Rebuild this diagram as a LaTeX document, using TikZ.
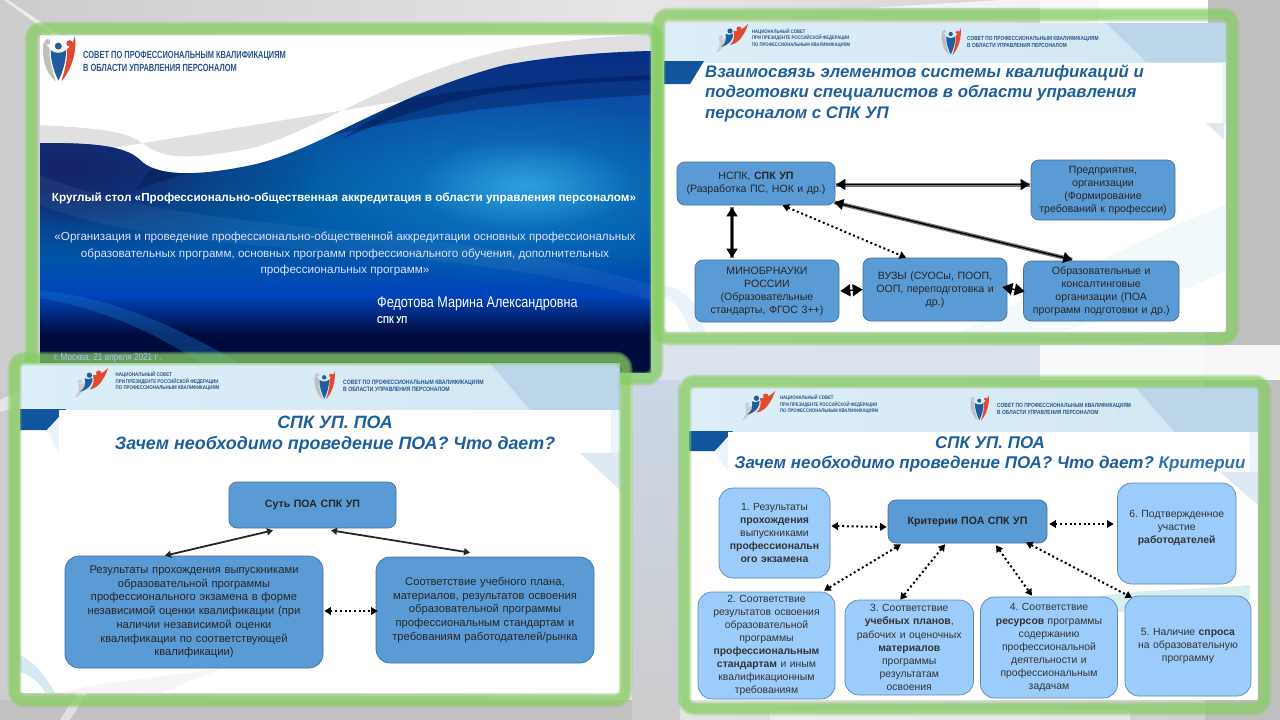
\documentclass[tikz,border=0pt]{standalone}
\usepackage{fontspec}
\setmainfont{Liberation Sans}
\newfontfamily\narrowf[FakeStretch=0.82]{Liberation Sans}
\newfontfamily\narrowerf[FakeStretch=0.72]{Liberation Sans}
\usetikzlibrary{arrows.meta,fadings}
\definecolor{titleblue}{HTML}{1D5F9C}
\definecolor{critblue}{HTML}{2F74AE}
\definecolor{midblue}{HTML}{5B9BD5}
\definecolor{midedge}{HTML}{41719C}
\definecolor{paleblue}{HTML}{9CCCFB}
\definecolor{paleedge}{HTML}{5E88AD}
\definecolor{glowgreen}{RGB}{135,205,100}
\definecolor{logoblue}{HTML}{1F5E9E}
\definecolor{flagblue}{HTML}{12559F}
\definecolor{logored}{HTML}{E2492F}
\definecolor{logotext}{HTML}{27558C}
\definecolor{navy}{HTML}{000B3E}
\definecolor{leftnavy}{HTML}{14246A}
\definecolor{hdrL}{HTML}{DCEEF8}
\definecolor{hdrR}{HTML}{D2E6F3}
\definecolor{hdrC}{HTML}{BCD6E9}
\definecolor{hdrP}{HTML}{EAF4FA}
\definecolor{triC}{HTML}{DCE9F2}
\definecolor{waveC}{HTML}{D5E8F4}
\definecolor{waveT}{HTML}{D6EEF0}
\definecolor{bgblue}{HTML}{CAD6E6}
\pgfdeclareverticalshading{slideone}{100bp}{
  color(0bp)=(navy); color(25bp)=(navy); color(31bp)=(navy);
  color(37bp)=(rgb:red,0;green,42;blue,115);
  color(43bp)=(rgb:red,0;green,85;blue,168);
  color(53bp)=(rgb:red,0;green,115;blue,200);
  color(64bp)=(rgb:red,10;green,85;blue,170);
  color(75bp)=(rgb:red,10;green,42;blue,112);
  color(100bp)=(rgb:red,10;green,42;blue,112)}
\tikzfading[name=softglow,inner color=transparent!0,outer color=transparent!100]
\AtBeginDocument{\frenchspacing}
\tikzset{
  bluebox/.style={draw=midedge,line width=.7pt,fill=midblue,rounded corners=8pt,align=center,inner sep=0pt,text=black!85,font=\fontsize{10.6}{13}\selectfont},
  bigbox/.style={bluebox,rounded corners=14pt,font=\fontsize{11.2}{13.7}\selectfont},
  palebox/.style={draw=paleedge,line width=.7pt,fill=paleblue,rounded corners=14pt,align=center,inner sep=0pt,text=black!80,font=\fontsize{10.4}{13.05}\selectfont},
  heavy/.style={{Triangle[length=9pt,width=11pt]}-{Triangle[length=9pt,width=11pt]},line width=1.4pt,black,preaction={draw=black!55,line width=4pt,arrows=-}},
  stubby/.style={{Triangle[length=10pt,width=12pt]}-{Triangle[length=10pt,width=12pt]},line width=1.4pt,black},
  medium/.style={{Triangle[length=6pt,width=7pt]}-{Triangle[length=6pt,width=7pt]},line width=1.8pt,black!85},
  dots/.style={{Triangle[length=6.5pt,width=7.5pt]}-{Triangle[length=6.5pt,width=7.5pt]},line width=2pt,black,dash pattern=on 2pt off 2.7pt},
  titletext/.style={text=titleblue,font=\bfseries\itshape\fontsize{17.85}{21}\selectfont,align=center,inner sep=0pt},
  logolabel/.style={anchor=west,inner sep=0pt,text=logotext,align=left},
}
\newcommand\BX[7]{%
  \pgfmathsetmacro\bw{#5-#3}\pgfmathsetmacro\bh{#6-#4}\pgfmathsetmacro\bt{#5-#3-5}%
  \node[#2,minimum width=\bw pt,minimum height=\bh pt,text width=\bt pt] (#1) at ({(#3+#5)/2},{(#4+#6)/2}) {#7};}
\newcommand\GF[4]{%
  \foreach \gw in {14,12,10,8}{
    \draw[glowgreen,opacity=.3,line width=\gw pt,rounded corners=10pt] ({#1+6.5},{#2+6.5}) rectangle ({#3-6.5},{#4-6.5});}}
\newcommand\LogoS[3]{%
  \begin{scope}[shift={(#1,#2)},scale=#3]
    \fill[black!25] (1,3.5) .. controls (-.5,13) and (2,22) .. (8.3,27) .. controls (5.5,19) and (4,12) .. (4.6,7.5) -- cycle;
    \fill[logored] (19.6,0) .. controls (21,10) and (17,21) .. (11.5,27) .. controls (14,19) and (15.4,13) .. (14.6,8) .. controls (17,6.5) and (18.6,4) .. (19.6,0) -- cycle;
    \fill[logoblue] (5.2,8.5) .. controls (7.5,10.5) and (12,10.5) .. (14.2,8.5) .. controls (14.6,14) and (12.5,21) .. (9.8,26.5) .. controls (7,21) and (5,14) .. (5.2,8.5) -- cycle;
    \fill[logoblue] (9.7,6) circle (2.1);
    \fill[logored] (16.4,4.4) circle (1.9);
    \fill[black!25] (3.3,3.5) circle (1.7);
  \end{scope}}
\newcommand\LogoN[3]{%
  \begin{scope}[shift={(#1,#2)},scale=#3]
    \fill[black!20] (0,29) .. controls (3,24) and (5,20) .. (3,15) .. controls (7,16) and (9,15) .. (10,14) .. controls (10,20) and (7,25) .. (0,29) -- cycle;
    \fill[black!20] (5,13) circle (2);
    \fill[logoblue] (5,23) .. controls (9,20) and (11,16) .. (9.5,10) .. controls (12,11.5) and (15,11) .. (17,9.5) .. controls (18,15) and (13,21) .. (5,23) -- cycle;
    \fill[logoblue] (14,7) circle (2.6);
    \fill[logored] (14,21) .. controls (18,17) and (19,12) .. (17.5,7) .. controls (22,7.5) and (26,6) .. (32,0) .. controls (30,8) and (26,12) .. (25,14) .. controls (23,17) and (19,20) .. (14,21) -- cycle;
    \fill[logored] (23,5) circle (2.6);
  \end{scope}}
\newcommand\SlideBase[8]{% x1 y1 x2 y2 headerbottom flagbottom flagtopright flagbottomright
  \fill[white] (#1,#2) rectangle (#3,#4);
  \shade[left color=hdrL,right color=hdrR] (#1,#2) rectangle (#3,#5);
  \fill[flagblue] (#1,{#5-1}) -- (#7,{#5-1}) -- (#8,#6) -- (#1,#6) -- cycle;
}
\begin{document}
\begin{tikzpicture}[x=1pt,y=-1pt]
\useasboundingbox (0,0) rectangle (1280,720);
% ---------- background
\shade[left color=black!20,right color=black!20,middle color=black!10] (0,0) rectangle (1280,720);
\fill[black!25] (1205,0) rectangle (1280,720);
\fill[white] (1098,0) rectangle (1208,30);
\fill[black!3] (1040,0) rectangle (1098,30);
\fill[bgblue!70!white] (630,345) rectangle (1280,380);
\shade[top color=bgblue,bottom color=black!20] (632,380) rectangle (680,720);
\fill[white,opacity=.8] (1040,345) rectangle (1205,380);
\fill[black!3] (1205,345) rectangle (1280,380);
\fill[white,opacity=.45] (770,710) rectangle (1130,720);
\fill[black!24] (0,700) rectangle (632,720);
\fill[white,opacity=.5] (60,720) -- (85,680) -- (95,680) -- (70,720) -- cycle;
\fill[white,opacity=.6] (4,0) -- (8,0) -- (60,35) -- (52,35) -- cycle;
\fill[white,opacity=.5] (0,400) -- (40,380) -- (40,400) -- (0,412) -- cycle;
\fill[white,opacity=.7] (870,8) -- (1040,8) -- (1040,0) -- (1000,0) -- cycle;
% ---------- slide 1 (title)
\fill[white] (40,35) rectangle (651,373);
\fill[black!12] (40,125) .. controls (90,128) and (125,130) .. (142,143) .. controls (165,160) and (190,160) .. (252,148) .. controls (320,130) and (390,75) .. (505,50) .. controls (560,40) and (610,36) .. (651,35) -- (651,60) -- (40,160) -- cycle;
\begin{scope}
  \clip (40,143) .. controls (90,143) and (125,145) .. (140,160) .. controls (155,175) and (190,178) .. (252,165) .. controls (320,150) and (390,95) .. (505,65) .. controls (560,55) and (610,52) .. (651,51) -- (651,373) -- (40,373) -- cycle;
  \shade[shading=slideone] (40,50) rectangle (651,373);
  \fill[leftnavy,path fading=softglow] (70,170) ellipse (250 and 90);
  \fill[leftnavy,opacity=.8,path fading=softglow] (60,165) ellipse (150 and 60);
  \fill[color=cyan!60!blue,opacity=.95,path fading=softglow] (515,190) ellipse (230 and 95);
  \fill[color=cyan!70!white,opacity=.5,path fading=softglow] (525,185) ellipse (110 and 45);
  \fill[white,opacity=.05] (40,175) .. controls (200,240) and (420,215) .. (651,285) -- (651,300) .. controls (420,235) and (200,265) .. (40,205) -- cycle;
  \fill[navy,opacity=.3] (135,190) .. controls (300,135) and (450,105) .. (651,95) -- (651,75) .. controls (450,85) and (300,110) .. (150,170) -- cycle;
  \fill[navy,opacity=.35] (651,51) -- (651,80) .. controls (500,85) and (430,100) .. (340,140) .. controls (400,100) and (450,75) .. (505,65) .. controls (560,55) and (610,52) .. (651,51) -- cycle;
  \fill[cyan!50!blue,opacity=.4] (40,290) .. controls (130,300) and (200,340) .. (257,373) -- (215,373) .. controls (170,340) and (110,310) .. (40,298) -- cycle;
\end{scope}
\LogoS{42}{36}{1.68}
\node[logolabel,font=\narrowerf\bfseries\fontsize{10.36}{12}\selectfont] (t1a) at (83,56) {СОВЕТ ПО ПРОФЕССИОНАЛЬНЫМ КВАЛИФИКАЦИЯМ};
\node[logolabel,font=\narrowerf\bfseries\fontsize{10.36}{12}\selectfont] (t1b) at (83,68) {В ОБЛАСТИ УПРАВЛЕНИЯ ПЕРСОНАЛОМ};
\node[text=white,font=\bfseries\fontsize{11.72}{14}\selectfont,inner sep=0pt] (t1c) at (344,198.5) {Круглый стол «Профессионально-общественная аккредитация в области управления персоналом»};
\node[text=white!88!blue,font=\fontsize{11.66}{16.6}\selectfont,align=center,inner sep=0pt] (t1d) at (345,254) {«Организация и проведение профессионально-общественной аккредитации основных профессиональных\\образовательных программ, основных программ профессионального обучения, дополнительных\\профессиональных программ»};
\node[anchor=west,text=white,font=\narrowf\fontsize{15.4}{17}\selectfont,inner sep=0pt] (t1e) at (377,304) {Федотова Марина Александровна};
\node[anchor=west,text=white,font=\narrowf\bfseries\fontsize{10}{12}\selectfont,inner sep=0pt] (t1f) at (377,320) {СПК УП};
\GF{25}{22}{663}{385}
% ---------- slide 2
\SlideBase{664}{23}{1226}{332}{62}{84}{704}{690}
\fill[hdrC] (1106,23) -- (1226,23) -- (1226,62) -- (1146,62) -- cycle;
\fill[hdrP] (1222,62) rectangle (1226,123);
\fill[triC] (1206,123) -- (1224,123) -- (1224,139) -- cycle;
\fill[waveC,opacity=.5] (664,285) .. controls (690,290) and (700,310) .. (705,332) -- (690,332) .. controls (685,315) and (675,300) .. (664,298) -- cycle;
\fill[waveT,opacity=.3] (960,332) .. controls (1050,290) and (1130,240) .. (1226,205) -- (1226,270) .. controls (1170,300) and (1100,320) .. (1060,332) -- cycle;
\LogoN{716}{24}{1}
\node[logolabel,font=\narrowf\bfseries\fontsize{5.1}{6.5}\selectfont] (t2a) at (752,38) {НАЦИОНАЛЬНЫЙ СОВЕТ\\ПРИ ПРЕЗИДЕНТЕ РОССИЙСКОЙ ФЕДЕРАЦИИ\\ПО ПРОФЕССИОНАЛЬНЫМ КВАЛИФИКАЦИЯМ};
\LogoS{941}{28}{1}
\node[logolabel,font=\narrowf\bfseries\fontsize{5.9}{7}\selectfont] (t2b) at (967,42) {СОВЕТ ПО ПРОФЕССИОНАЛЬНЫМ КВАЛИФИКАЦИЯМ\\В ОБЛАСТИ УПРАВЛЕНИЯ ПЕРСОНАЛОМ};
\node[titletext,anchor=north west,align=left,font=\bfseries\itshape\fontsize{16.8}{20.2}\selectfont] (t2c) at (705,65) {Взаимосвязь элементов системы квалификаций и\\подготовки специалистов в области управления\\персоналом с СПК УП};
\BX{nspk}{bluebox}{677}{162}{835}{205}{НСПК, \textbf{СПК УП}\\(Разработка ПС, НОК и др.)}
\BX{pred}{bluebox}{1031}{160}{1175}{220}{Предприятия,\\организации\\(Формирование\\требований к профессии)}
\BX{mino}{bluebox}{695}{260}{839}{322}{МИНОБРНАУКИ\\РОССИИ\\(Образовательные\\стандарты, ФГОС 3++)}
\BX{vuz}{bluebox}{863}{258}{1007}{321}{ВУЗЫ (СУОСы, ПООП,\\ООП, переподготовка и\\др.)}
\BX{obr}{bluebox}{1023.5}{261}{1179}{321}{Образовательные и\\консалтинговые\\организации (ПОА\\программ подготовки и др.)}
\draw[heavy] ([xshift=1pt,yshift=-1pt]nspk.east) -- ([xshift=-1pt,yshift=5.5pt]pred.west);
\draw[heavy] ([xshift=-24pt,yshift=-2pt]nspk.south) -- ([xshift=-35pt,yshift=2pt]mino.north);
\draw[dots] ([xshift=26.5pt]nspk.south) -- ([xshift=-29pt]vuz.north);
\draw[heavy] ([xshift=-1pt,yshift=3pt]nspk.south east) -- ([xshift=-29pt,yshift=1pt]obr.north);
\draw[stubby] ([xshift=1pt]mino.east) -- ([xshift=0pt]vuz.west);
\draw[stubby] ([xshift=-5pt,yshift=2.5pt]vuz.east) -- ([xshift=1.5pt,yshift=-.5pt]obr.west);
\GF{652}{8}{1239}{345}
% ---------- slide 3
\SlideBase{20}{363}{620}{693}{410}{430}{66}{47}
\fill[hdrC] (490,363) -- (620,363) -- (620,410) -- (530,410) -- cycle;
\fill[hdrP] (47,430) -- (66,410) -- (620,410) -- (620,453) -- (59,453) -- cycle;
\fill[white] (59,410) rectangle (611,453);
\fill[triC] (580,453) -- (620,453) -- (620,490) -- cycle;
\fill[waveC] (20,655) .. controls (40,665) and (50,685) .. (55,693) -- (45,693) .. controls (40,682) and (30,675) .. (20,672) -- cycle;
\fill[black!4] (62,693) .. controls (100,680) and (200,675) .. (230,665) -- (160,693) -- cycle;
\LogoN{75}{368}{1.03}
\node[logolabel,font=\narrowf\bfseries\fontsize{5.4}{6.5}\selectfont] (t3a) at (115.5,381.5) {НАЦИОНАЛЬНЫЙ СОВЕТ\\ПРИ ПРЕЗИДЕНТЕ РОССИЙСКОЙ ФЕДЕРАЦИИ\\ПО ПРОФЕССИОНАЛЬНЫМ КВАЛИФИКАЦИЯМ};
\LogoS{314}{371}{1.05}
\node[logolabel,font=\narrowf\bfseries\fontsize{6.3}{7}\selectfont] (t3b) at (343,385.5) {СОВЕТ ПО ПРОФЕССИОНАЛЬНЫМ КВАЛИФИКАЦИЯМ\\В ОБЛАСТИ УПРАВЛЕНИЯ ПЕРСОНАЛОМ};
\node[titletext] (t3c) at (335,434.5) {СПК УП. ПОА\\Зачем необходимо проведение ПОА? Что дает?};
\BX{sut}{bigbox,rounded corners=8pt,font=\bfseries\fontsize{10.6}{13}\selectfont}{229}{482}{396}{528}{Суть ПОА СПК УП}
\BX{res}{bigbox}{65}{556}{323}{668}{Результаты прохождения выпускниками\\образовательной программы\\профессионального экзамена в форме\\независимой оценки квалификации (при\\наличии независимой оценки\\квалификации по соответствующей\\квалификации)}
\BX{sot}{bigbox}{376}{557}{594}{663}{Соответствие учебного плана,\\материалов, результатов освоения\\образовательной программы\\профессиональным стандартам и\\требованиям работодателей/рынка}
\draw[medium] ([xshift=-39.5pt,yshift=-2pt]sut.south) -- ([xshift=-29pt]res.north);
\draw[medium] ([xshift=18.5pt,yshift=-2pt]sut.south) -- ([xshift=-15pt,yshift=4pt]sot.north);
\draw[dots] ([xshift=1pt,yshift=1pt]res.east) -- ([xshift=2pt,yshift=-1pt]sot.west);
\GF{8}{352}{632}{707}
\node[anchor=west,text=white!72!blue,font=\narrowf\fontsize{10}{12}\selectfont,inner sep=0pt] (t1g) at (54,358) {г. Москва, 21 апреля  2021 г .};
% ---------- slide 4
\SlideBase{689}{387}{1258}{700}{432}{451}{733}{715}
\fill[hdrC] (1135,387) -- (1258,387) -- (1258,432) -- (1175,432) -- cycle;
\fill[hdrP] (715,451) -- (733,432) -- (1258,432) -- (1258,472) -- (728,472) -- cycle;
\fill[white] (728,432) rectangle (1250,472);
\fill[triC] (1220,472) -- (1258,472) -- (1258,505) -- cycle;
\fill[waveT] (1075,600) .. controls (1140,588) and (1200,590) .. (1250,585) -- (1250,600) .. controls (1190,605) and (1130,610) .. (1120,612) -- cycle;
\LogoN{742}{391}{1.03}
\node[logolabel,font=\narrowf\bfseries\fontsize{5.1}{6.5}\selectfont] (t4a) at (780,404.5) {НАЦИОНАЛЬНЫЙ СОВЕТ\\ПРИ ПРЕЗИДЕНТЕ РОССИЙСКОЙ ФЕДЕРАЦИИ\\ПО ПРОФЕССИОНАЛЬНЫМ КВАЛИФИКАЦИЯМ};
\LogoS{970}{395}{.95}
\node[logolabel,font=\narrowf\bfseries\fontsize{6}{7}\selectfont] (t4b) at (997,408.5) {СОВЕТ ПО ПРОФЕССИОНАЛЬНЫМ КВАЛИФИКАЦИЯМ\\В ОБЛАСТИ УПРАВЛЕНИЯ ПЕРСОНАЛОМ};
\node[titletext,font=\bfseries\itshape\fontsize{17}{20.5}\selectfont] (t4c) at (990,454.5) {СПК УП. ПОА\\Зачем необходимо проведение ПОА? Что дает? {\color{critblue}Критерии}};
\BX{kri}{bluebox,font=\bfseries\fontsize{10.6}{13}\selectfont}{888}{500}{1047}{543}{Критерии ПОА СПК УП}
\BX{c1}{palebox}{719}{488}{830}{578}{1. Результаты\\\textbf{прохождения}\\выпускниками\\\textbf{профессиональн}\\\textbf{ого экзамена}}
\BX{c6}{palebox}{1117.5}{483}{1236}{584}{6. Подтвержденное\\участие\\\textbf{работодателей}\\~}
\BX{c2}{palebox}{698}{592}{835}{699}{2. Соответствие\\результатов освоения\\образовательной\\программы\\\textbf{профессиональным}\\\textbf{стандартам} и иным\\квалификационным\\требованиям}
\BX{c3}{palebox}{845}{600}{973.5}{695}{3. Соответствие\\\textbf{учебных планов},\\рабочих и оценочных\\\textbf{материалов}\\программы\\результатам\\освоения}
\BX{c4}{palebox}{980.5}{597}{1117.5}{698}{4. Соответствие\\\textbf{ресурсов} программы\\содержанию\\профессиональной\\деятельности и\\профессиональным\\задачам}
\BX{c5}{palebox}{1125}{596}{1251}{696}{5. Наличие \textbf{спроса}\\на образовательную\\программу}
\draw[dots] ([xshift=1pt,yshift=7pt]c1.east) -- ([xshift=-1pt,yshift=-5.5pt]kri.west);
\draw[dots] ([xshift=2pt,yshift=-2.5pt]kri.east) -- ([xshift=-3.5pt,yshift=9.5pt]c6.west);
\draw[dots] ([xshift=-66.5pt,yshift=-1pt]kri.south) -- ([xshift=57.5pt,yshift=1pt]c2.north);
\draw[dots] ([xshift=-22.5pt,yshift=-1pt]kri.south) -- ([xshift=-9pt]c3.north);
\draw[dots] ([xshift=28.5pt,yshift=-2pt]kri.south) -- ([xshift=-17pt,yshift=1pt]c4.north);
\draw[dots] ([xshift=58.5pt,yshift=1pt]kri.south) -- ([xshift=-56pt,yshift=-2pt]c5.north);
\GF{678}{375}{1271}{715}
\end{tikzpicture}
\end{document}
